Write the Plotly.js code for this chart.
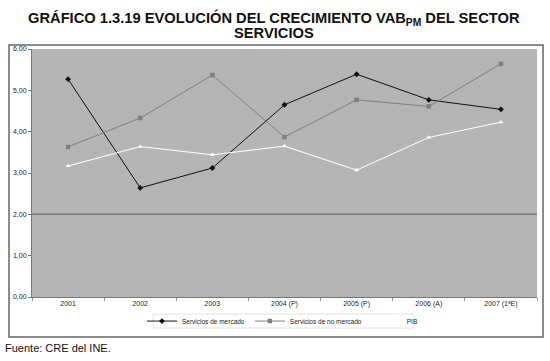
<!DOCTYPE html>
<html><head><meta charset="utf-8">
<script src="https://cdn.plot.ly/plotly-3.0.1.min.js"></script>
<style>body{margin:0;background:#fff}#c{width:550px;height:361px}</style>
</head><body><div id="c"></div>
<script>
const years = ["2001","2002","2003","2004 (P)","2005 (P)","2006 (A)","2007 (1ªE)"];
const mercado = [5.27, 2.64, 3.12, 4.65, 5.39, 4.77, 4.54];
const noMercado = [3.63, 4.33, 5.37, 3.87, 4.77, 4.61, 5.64];
const pib = [3.17, 3.64, 3.44, 3.65, 3.07, 3.86, 4.23];
const yTicks = [0,1,2,3,4,5,6];
const yLabels = ["0,00","1,00","2,00","3,00","4,00","5,00","6,00"];

const font = "Liberation Sans, Arial, sans-serif";
const traces = [
  {x: years, y: mercado, name: "Servicios de mercado", mode: "lines+markers",
   line: {color: "#111", width: 1}, marker: {symbol: "diamond", size: 4.5, color: "#111"}},
  {x: years, y: noMercado, name: "Servicios de no mercado", mode: "lines+markers",
   line: {color: "#808080", width: 1}, marker: {symbol: "square", size: 4.5, color: "#808080"}},
  {x: years, y: pib, name: "PIB", mode: "lines+markers",
   line: {color: "#ffffff", width: 1}, marker: {symbol: "triangle-up", size: 4.5, color: "#ffffff"}}
];
const layout = {
  width: 550, height: 361,
  margin: {l: 32, r: 13, t: 49, b: 64},
  paper_bgcolor: "#fff", plot_bgcolor: "#b4b4b4",
  font: {family: font, size: 7, color: "#222"},
  xaxis: {type: "category", showgrid: false, zeroline: false, showline: true, linecolor: "#777",
          ticks: "outside", tickson: "boundaries", ticklen: 3, tickcolor: "#999",
          tickfont: {size: 7, color: "#222"}, range: [-0.5, 6.5], fixedrange: true},
  yaxis: {range: [0, 6], tickvals: yTicks, ticktext: yLabels, showgrid: false, zeroline: false,
          showline: true, linecolor: "#777", ticks: "outside", ticklen: 3, tickcolor: "#777",
          tickfont: {size: 7, color: "#222"}, fixedrange: true},
  showlegend: true,
  legend: {orientation: "h", x: 0.496, xanchor: "center", y: -0.097, yanchor: "middle",
           font: {size: 6.5, color: "#222"}, bgcolor: "rgba(0,0,0,0)", borderwidth: 0,
           itemwidth: 30, tracegroupgap: 0},
  shapes: [
    {type: "line", xref: "paper", yref: "y", x0: 0, x1: 1, y0: 2, y1: 2, line: {color: "#777", width: 1.5}, layer: "below"},
    {type: "rect", xref: "paper", yref: "paper", x0: -0.0455, x1: 1.0119, y0: -0.161, y1: 1.016,
     line: {color: "#666", width: 1.5}, fillcolor: "rgba(0,0,0,0)"},
    {type: "rect", xref: "paper", yref: "paper", x0: 0.24, x1: 0.755, y0: -0.125, y1: -0.069,
     line: {color: "#e2e2e2", width: 1}, fillcolor: "rgba(0,0,0,0)"}
  ],
  annotations: [
    {text: "<b>GRÁFICO 1.3.19 EVOLUCIÓN DEL CRECIMIENTO VAB<sub>PM</sub> DEL SECTOR</b>", xref: "paper", yref: "paper",
     x: 0.479, y: 1.125, xanchor: "center", yanchor: "middle", showarrow: false,
     font: {family: font, size: 14.7, color: "#111"}},
    {text: "<b>SERVICIOS</b>", xref: "paper", yref: "paper",
     x: 0.479, y: 1.0645, xanchor: "center", yanchor: "middle", showarrow: false,
     font: {family: font, size: 14.7, color: "#111"}},
    {text: "Fuente: CRE del INE.", xref: "paper", yref: "paper", x: -0.057, y: -0.205,
     xanchor: "left", yanchor: "middle", showarrow: false, font: {family: font, size: 11, color: "#111"}}
  ]
};
Plotly.newPlot("c", traces, layout, {displayModeBar: false, staticPlot: true});
</script></body></html>
